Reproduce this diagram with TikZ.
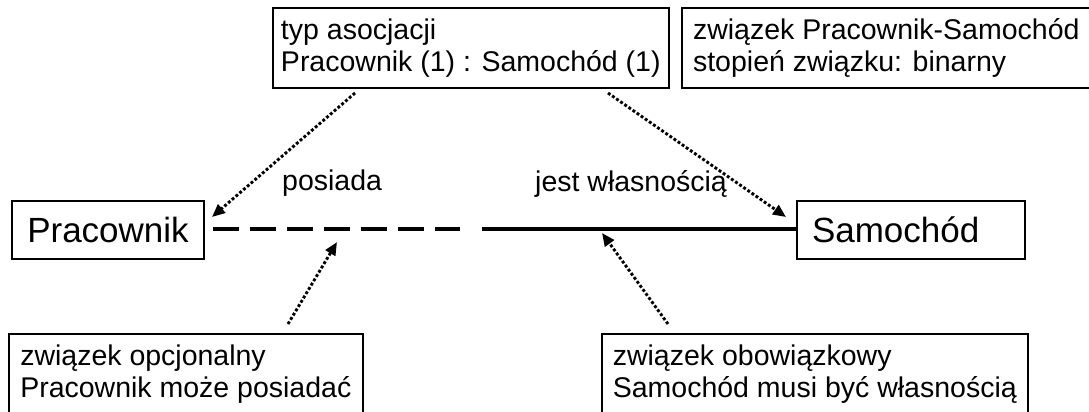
\documentclass[tikz,border=0pt]{standalone}
\usepackage{fontspec}
\setmainfont{Liberation Sans}
\usetikzlibrary{positioning, arrows.meta, calc}

\begin{document}
\begin{tikzpicture}[x=1pt, y=-1pt,
        entity/.style={draw, line width=2.8pt, minimum height=58pt, inner xsep=15pt, font=\fontsize{35}{40}\selectfont},
        note/.style={draw, line width=1.6pt, anchor=north west, minimum height=80pt, inner xsep=6pt, align=left, font=\fontsize{28.5}{32}\selectfont},
        rolelabel/.style={anchor=base west, inner sep=0pt, font=\fontsize{28.5}{32}\selectfont},
        optional/.style={line width=3.2pt, dash pattern=on 26pt off 11pt},
        mandatory/.style={line width=3.2pt},
        pointer/.style={-{Triangle[length=13pt, width=11pt]}, line width=2.9pt, dash pattern=on 2.9pt off 2.1pt},
    ]
    \clip (0,0) rectangle (1089,412);

    % Notes above
    \node[note, minimum width=396pt] (assoc) at (272,7) {typ asocjacji\\Pracownik (1) : Samochód (1)};
    \node[note, minimum width=409pt] (degree) at (681,7) {związek Pracownik-Samochód\\stopień związku: binarny};

    % Entities
    \node[entity, minimum width=192pt] (prac) at (108,230) {Pracownik};
    \node[entity, text width=198pt, align=left] (samoch) at (911,230) {Samochód};

    % Role names
    \node[rolelabel] (lposiada) at (282,190) {posiada};
    \node[rolelabel] (ljest) at (535,191) {jest własnością};

    % Notes below
    \node[note, minimum width=354pt] (opt) at (8,333) {związek opcjonalny\\Pracownik może posiadać};
    \node[note, minimum width=426pt] (mand) at (601,333) {związek obowiązkowy\\Samochód musi być własnością};

    % Relationship line
    \coordinate (midA) at (460,229);
    \coordinate (midB) at (482,229);
    \draw[optional, shorten <=8pt] (prac.east |- midA) -- (midA);
    \draw[mandatory] (midB) -- (samoch.west |- midB);

    % Pointers from the notes
    \coordinate (assocL) at (355,93);
    \coordinate (assocR) at (608,93);
    \coordinate (pracTip) at (212,217);
    \coordinate (samTip) at (786,217);
    \coordinate (optStart) at (288,324);
    \coordinate (optTip) at (337,242);
    \coordinate (mandStart) at (668,324);
    \coordinate (mandTip) at (602,233);

    \draw[pointer] (assocL) -- (pracTip);
    \draw[pointer] (assocR) -- (samTip);
    \draw[pointer] (optStart) -- (optTip);
    \draw[pointer] (mandStart) -- (mandTip);
\end{tikzpicture}
\end{document}
